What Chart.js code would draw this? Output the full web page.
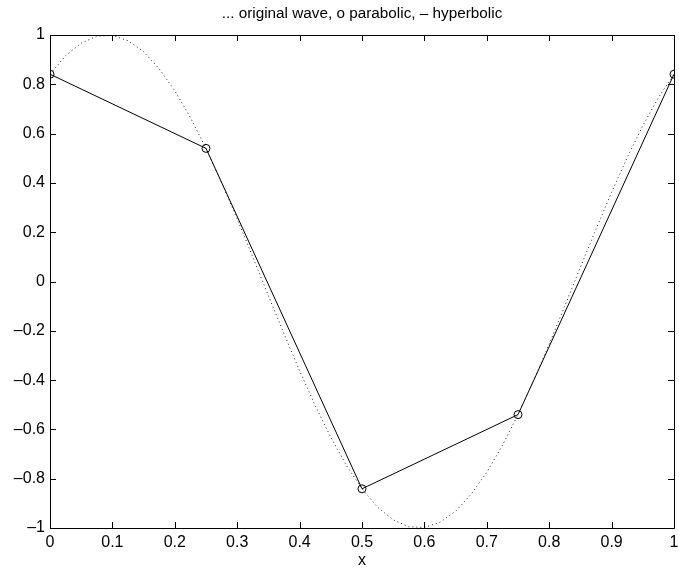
<!DOCTYPE html>
<html>
<head>
<meta charset="utf-8">
<script src="https://cdn.jsdelivr.net/npm/chart.js@4/dist/chart.umd.min.js"></script>
<style>
  html, body { margin: 0; padding: 0; background: #fff; }
  #wrap { width: 679px; height: 569px; }
</style>
</head>
<body>
<div id="wrap"><canvas id="c" width="679" height="569"></canvas></div>
<script>
// Original wave, sampled every 0.025 along x
const waveX = [0, 0.025, 0.05, 0.075, 0.1, 0.125, 0.15, 0.175, 0.2, 0.225,
  0.25, 0.275, 0.3, 0.325, 0.35, 0.375, 0.4, 0.425, 0.45, 0.475,
  0.5, 0.525, 0.55, 0.575, 0.6, 0.625, 0.65, 0.675, 0.7, 0.725,
  0.75, 0.775, 0.8, 0.825, 0.85, 0.875, 0.9, 0.925, 0.95, 0.975, 1];
const waveY = [0.841, 0.916, 0.967, 0.995, 0.998, 0.977, 0.932, 0.863, 0.774, 0.665,
  0.540, 0.401, 0.254, 0.099, -0.058, -0.212, -0.362, -0.503, -0.632, -0.746,
  -0.841, -0.916, -0.967, -0.995, -0.998, -0.977, -0.932, -0.863, -0.774, -0.665,
  -0.540, -0.401, -0.254, -0.099, 0.058, 0.212, 0.362, 0.503, 0.632, 0.746, 0.841];

// Coarse samples (circles) joined by straight segments
const sampleX = [0, 0.25, 0.5, 0.75, 1];
const sampleY = [0.841, 0.540, -0.841, -0.540, 0.841];

const xTicks = [0, 0.1, 0.2, 0.3, 0.4, 0.5, 0.6, 0.7, 0.8, 0.9, 1];
const yTicks = [-1, -0.8, -0.6, -0.4, -0.2, 0, 0.2, 0.4, 0.6, 0.8, 1];

const titleText = '... original wave, o parabolic, \u2013 hyperbolic';
const xLabel = 'x';

const toPts = (xs, ys) => xs.map((x, i) => ({ x: x, y: ys[i] }));
const fmt = v => {
  const r = Math.round(v * 10) / 10;
  return String(r).replace('-', '\u2013');
};

const FONT = 'Liberation Sans, Arial, Helvetica, sans-serif';

// Box around the axes, inward tick marks on every side, and the
// title centred over the plotting area
const frame = {
  id: 'frame',
  afterDraw(chart) {
    const { ctx, chartArea: a, scales } = chart;
    const len = 6;
    ctx.save();
    ctx.strokeStyle = '#000';
    ctx.lineWidth = 1;
    ctx.beginPath();
    ctx.rect(Math.round(a.left) + 0.5, Math.round(a.top) + 0.5,
             Math.round(a.right - a.left), Math.round(a.bottom - a.top));
    xTicks.forEach(v => {
      const px = Math.round(scales.x.getPixelForValue(v)) + 0.5;
      ctx.moveTo(px, a.bottom); ctx.lineTo(px, a.bottom - len);
      ctx.moveTo(px, a.top); ctx.lineTo(px, a.top + len);
    });
    yTicks.forEach(v => {
      const py = Math.round(scales.y.getPixelForValue(v)) + 0.5;
      ctx.moveTo(a.left, py); ctx.lineTo(a.left + len, py);
      ctx.moveTo(a.right, py); ctx.lineTo(a.right - len, py);
    });
    ctx.stroke();

    ctx.fillStyle = '#000';
    ctx.font = '15.3px ' + FONT;
    ctx.textAlign = 'center';
    ctx.textBaseline = 'middle';
    ctx.fillText(titleText, (a.left + a.right) / 2, 14);
    ctx.restore();
  }
};

new Chart(document.getElementById('c'), {
  type: 'line',
  data: {
    datasets: [
      {
        label: 'original wave',
        data: toPts(waveX, waveY),
        borderColor: '#222',
        borderWidth: 1,
        borderDash: [1, 3],
        pointRadius: 0,
        fill: false,
        tension: 0
      },
      {
        label: 'samples',
        data: toPts(sampleX, sampleY),
        borderColor: '#000',
        borderWidth: 1,
        pointStyle: 'circle',
        pointRadius: 4,
        pointBorderColor: '#000',
        pointBackgroundColor: 'rgba(0,0,0,0)',
        pointBorderWidth: 1,
        fill: false,
        tension: 0
      }
    ]
  },
  options: {
    responsive: false,
    animation: false,
    layout: { padding: { left: 0, right: 4, top: 35, bottom: 0 } },
    plugins: {
      legend: { display: false },
      tooltip: { enabled: false },
      title: { display: false }
    },
    scales: {
      x: {
        type: 'linear',
        min: 0, max: 1,
        afterBuildTicks: s => { s.ticks = xTicks.map(v => ({ value: v })); },
        afterFit: s => { s.height = 41; s.paddingLeft = 0; s.paddingRight = 0; },
        grid: { display: false, drawTicks: false },
        border: { display: false },
        ticks: {
          color: '#000',
          padding: 5,
          maxRotation: 0,
          autoSkip: false,
          font: { family: FONT, size: 16 },
          callback: v => fmt(v)
        },
        title: {
          display: true,
          text: xLabel,
          color: '#000',
          padding: 0,
          font: { family: FONT, size: 16, lineHeight: 1 }
        }
      },
      y: {
        type: 'linear',
        min: -1, max: 1,
        afterBuildTicks: s => { s.ticks = yTicks.map(v => ({ value: v })); },
        afterFit: s => { s.width = 50; s.paddingTop = 0; s.paddingBottom = 0; },
        grid: { display: false, drawTicks: false },
        border: { display: false },
        ticks: {
          color: '#000',
          padding: 5,
          autoSkip: false,
          font: { family: FONT, size: 16 },
          callback: v => fmt(v)
        }
      }
    }
  },
  plugins: [frame]
});
</script>
</body>
</html>
